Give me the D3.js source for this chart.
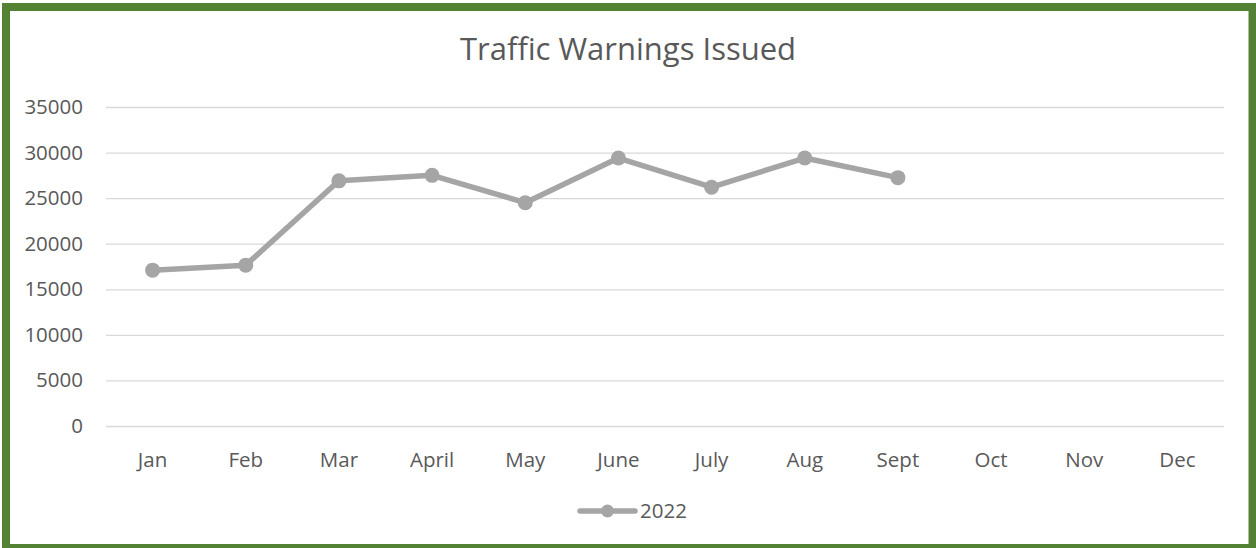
<!DOCTYPE html>
<html>
<head>
<meta charset="utf-8">
<script src="https://cdn.jsdelivr.net/npm/d3@7"></script>
<style>
  body { margin: 0; background: #fff; }
  svg text { font-family: "Open Sans", sans-serif; fill: #595959; }
</style>
</head>
<body>
<div id="chart"></div>
<script>
// data
const months = ["Jan", "Feb", "Mar", "April", "May", "June", "July", "Aug", "Sept", "Oct", "Nov", "Dec"];
const warnings2022 = [17100, 17650, 26900, 27500, 24500, 29400, 26200, 29400, 27250];
const yTicks = [0, 5000, 10000, 15000, 20000, 25000, 30000, 35000];
const seriesName = "2022";

const W = 1256, H = 548;
const plot = { left: 106, right: 1224, top: 107, bottom: 426 };
const lineColor = "#a5a5a5";

const svg = d3.select("#chart")
    .append("svg")
    .attr("width", W)
    .attr("height", H);

// green frame
svg.append("rect")
    .attr("x", 6)
    .attr("y", 7)
    .attr("width", 1246.5)
    .attr("height", 541)
    .attr("fill", "#fff")
    .attr("stroke", "#548235")
    .attr("stroke-width", 8);

const x = d3.scaleBand().domain(months).range([plot.left, plot.right]).padding(0);
const y = d3.scaleLinear().domain([0, 35000]).range([plot.bottom, plot.top]);

// title
svg.append("text")
    .attr("x", W / 2)
    .attr("y", 60)
    .attr("text-anchor", "middle")
    .style("font-size", "31px")
    .text("Traffic Warnings Issued");

// y axis + gridlines
const yAxis = svg.append("g")
    .attr("transform", `translate(${plot.left},0)`)
    .call(d3.axisLeft(y).tickValues(yTicks).tickSize(-(plot.right - plot.left)).tickPadding(23).tickFormat(d3.format("d")));
yAxis.select(".domain").remove();
yAxis.selectAll(".tick line").attr("stroke", "#d9d9d9").attr("stroke-width", 1.3);
yAxis.selectAll(".tick text").style("font-size", "20.5px").attr("fill", "#595959");

// x axis labels
const xAxis = svg.append("g")
    .attr("transform", `translate(0,${plot.bottom})`)
    .call(d3.axisBottom(x).tickSize(0));
xAxis.select(".domain").remove();
xAxis.selectAll(".tick text")
    .attr("y", 41)
    .attr("dy", null)
    .style("font-size", "20.5px")
    .attr("fill", "#595959");

// the series
const pts = warnings2022.map((v, i) => ({ m: months[i], v: v }));
const cx = d => x(d.m) + x.bandwidth() / 2;

svg.append("path")
    .datum(pts)
    .attr("fill", "none")
    .attr("stroke", lineColor)
    .attr("stroke-width", 5.5)
    .attr("stroke-linejoin", "round")
    .attr("d", d3.line().x(cx).y(d => y(d.v)));

svg.selectAll("circle.pt")
    .data(pts)
    .enter()
    .append("circle")
    .attr("class", "pt")
    .attr("cx", cx)
    .attr("cy", d => y(d.v))
    .attr("r", 7.5)
    .attr("fill", lineColor);

// legend
const lg = svg.append("g").attr("transform", "translate(580,511)");
lg.append("line")
    .attr("x1", 0).attr("x2", 55)
    .attr("stroke", lineColor)
    .attr("stroke-width", 5.5)
    .attr("stroke-linecap", "round");
lg.append("circle").attr("cx", 27.5).attr("r", 6.5).attr("fill", lineColor);
lg.append("text")
    .attr("x", 60)
    .attr("y", 7)
    .style("font-size", "20.5px")
    .text(seriesName);
</script>
</body>
</html>
